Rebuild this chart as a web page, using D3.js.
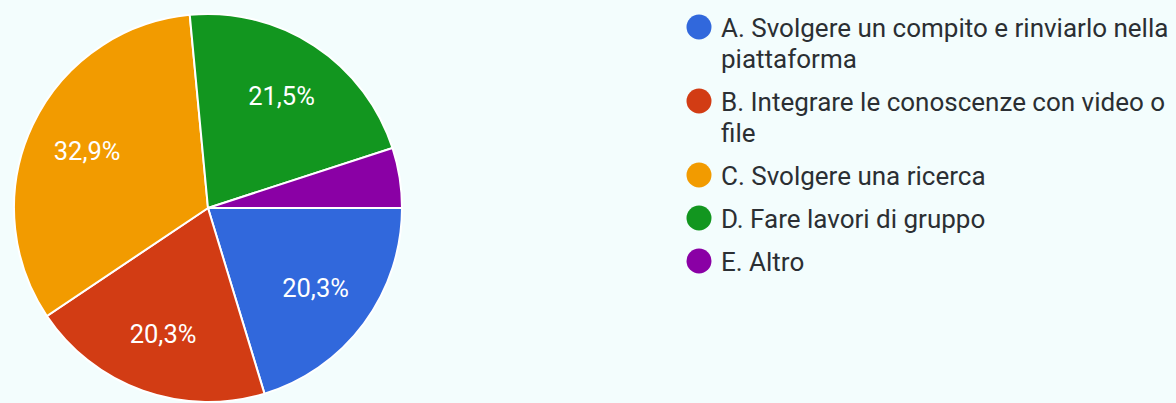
<!DOCTYPE html>
<html>
<head>
<meta charset="utf-8">
<script src="https://cdn.jsdelivr.net/npm/d3@7"></script>
<style>
  html, body { margin: 0; padding: 0; background: #f3fdfd; }
  svg { display: block; }
</style>
</head>
<body>
<svg id="chart" width="1176" height="403"></svg>
<script>
// Dati del grafico
var categorie = [
  "A. Svolgere un compito e rinviarlo nella piattaforma",
  "B. Integrare le conoscenze con video o file",
  "C. Svolgere una ricerca",
  "D. Fare lavori di gruppo",
  "E. Altro"
];
var valori = [20.3, 20.3, 32.9, 21.5, 5.0];
var etichette = ["20,3%", "20,3%", "32,9%", "21,5%", ""];
var colori = ["#3168dc", "#d23c14", "#f29b00", "#12961f", "#8a00a5"];

var svg = d3.select("#chart");
var cx = 208, cy = 208, raggio = 194;

// Torta
var pie = d3.pie()
  .sort(null)
  .startAngle(Math.PI / 2)
  .endAngle(Math.PI / 2 + 2 * Math.PI)
  .value(function(d) { return d; });

var arc = d3.arc().innerRadius(0).outerRadius(raggio);
var arcEtichette = d3.arc().innerRadius(raggio * 0.69).outerRadius(raggio * 0.69);

var g = svg.append("g").attr("transform", "translate(" + cx + "," + cy + ")");
var archi = pie(valori);

g.selectAll("path")
  .data(archi)
  .enter().append("path")
    .attr("d", arc)
    .attr("fill", function(d, i) { return colori[i]; })
    .attr("stroke", "#ffffff")
    .attr("stroke-width", 2);

g.selectAll("text")
  .data(archi)
  .enter().append("text")
    .attr("transform", function(d) { return "translate(" + arcEtichette.centroid(d) + ")"; })
    .attr("text-anchor", "middle")
    .attr("dominant-baseline", "central")
    .style("font-family", "Roboto, Arial, sans-serif")
    .style("font-size", "25.5px")
    .attr("fill", "#ffffff")
    .text(function(d, i) { return etichette[i]; });

// Legenda con testo a capo
var legX = 721, maxLarghezza = 455, interlinea = 31, spazio = 12;
var legenda = svg.append("g");
var y = 37;

categorie.forEach(function(testo, i) {
  var voce = legenda.append("g");
  voce.append("circle")
    .attr("cx", legX - 22)
    .attr("cy", y - 10)
    .attr("r", 12.5)
    .attr("fill", colori[i]);

  var t = voce.append("text")
    .attr("x", legX)
    .attr("y", y)
    .style("font-family", "Roboto, Arial, sans-serif")
    .style("font-size", "26px")
    .attr("fill", "#2b2f33");

  var parole = testo.split(" ");
  var riga = [];
  var tspan = t.append("tspan").attr("x", legX).attr("y", y);
  var righe = 1;
  parole.forEach(function(p) {
    riga.push(p);
    tspan.text(riga.join(" "));
    if (tspan.node().getComputedTextLength() > maxLarghezza && riga.length > 1) {
      riga.pop();
      tspan.text(riga.join(" "));
      riga = [p];
      tspan = t.append("tspan").attr("x", legX).attr("y", y + righe * interlinea).text(p);
      righe++;
    }
  });
  y += righe * interlinea + spazio;
});
</script>
</body>
</html>
